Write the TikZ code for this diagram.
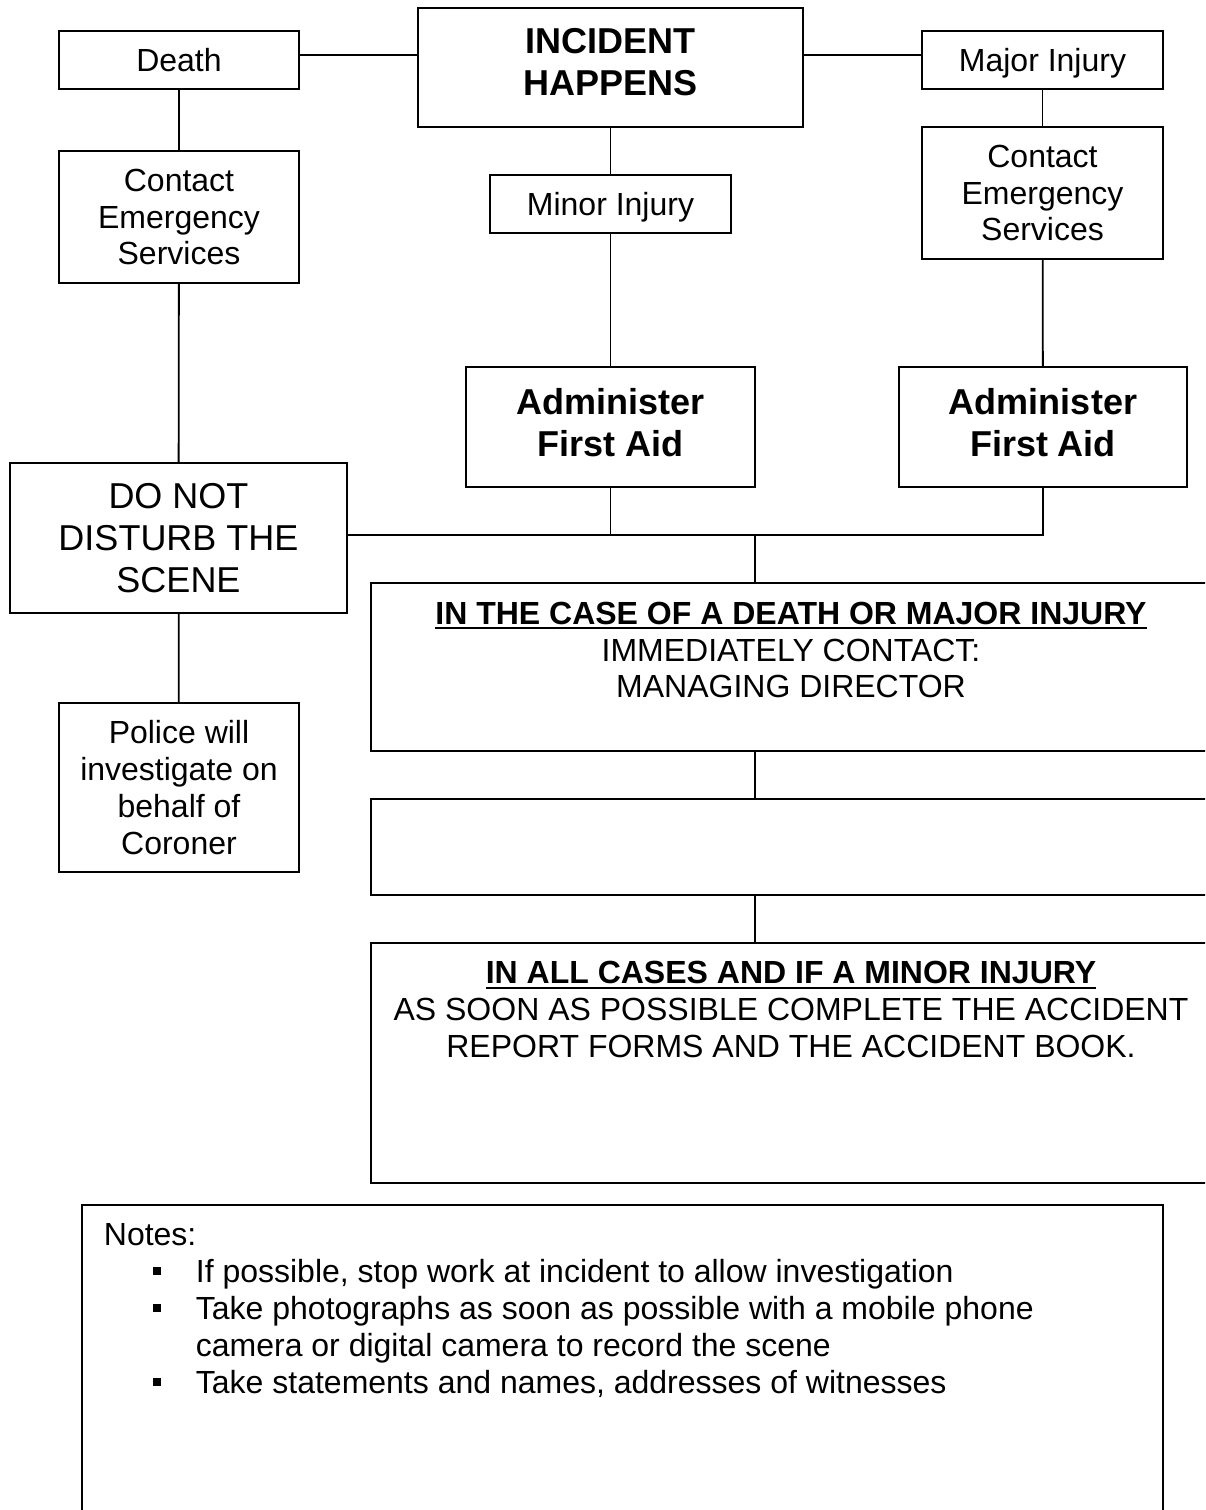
\documentclass[tikz,border=0pt]{standalone}
\usepackage{fontspec}
\setmainfont{Liberation Sans}
\newcommand\myul[1]{\setbox0\hbox{#1}\rlap{\rule[-5pt]{\wd0}{2pt}}\box0}
\newcommand\mybul{\makebox[92pt][l]{\hspace*{49pt}\rule[7pt]{8pt}{8pt}}}
\begin{document}
\begin{tikzpicture}[x=1pt,y=-1pt,line width=1.8pt,
  box/.style={draw,line width=1.8pt,inner sep=0pt,align=center,font=\fontsize{32}{36.8}\selectfont},
  oneline/.style={text depth=0pt},
  bigbold/.style={font=\fontsize{36}{42}\selectfont\bfseries},
  bigreg/.style={font=\fontsize{36}{42}\selectfont},
  txt/.style={inner sep=0pt,align=center,font=\fontsize{32}{36.8}\selectfont},
  notetxt/.style={inner sep=0pt,anchor=base west,font=\fontsize{32}{36.8}\selectfont}]
\useasboundingbox (0,0) rectangle (1205,1510);
\fill[white] (0,0) rectangle (1205,1510);
\clip (0,0) rectangle (1205,1510);
% top row
\node[box,bigbold,text depth=12pt,minimum width=385pt,minimum height=119pt] (incident) at (610.5,67.5) {INCIDENT\\HAPPENS};
\node[box,oneline,minimum width=240pt,minimum height=58pt] (death) at (179,60) {Death};
\node[box,oneline,minimum width=241pt,minimum height=58pt] (major) at (1042.5,60) {Major Injury};
% left column
\node[box,minimum width=240pt,minimum height=132pt] (contactL) at (179,217) {Contact\\Emergency\\Services};
\node[box,bigreg,minimum width=337pt,minimum height=150pt] (dnd) at (178.5,538) {DO NOT\\DISTURB THE\\SCENE};
\node[box,minimum width=240pt,minimum height=169pt] (police) at (179,787.5) {Police will\\investigate on\\behalf of\\Coroner};
% centre column
\node[box,oneline,minimum width=241pt,minimum height=58pt] (minor) at (610.5,204) {Minor Injury};
\node[box,bigbold,text depth=10pt,minimum width=289pt,minimum height=120pt] (adminC) at (610.5,427) {Administer\\First Aid};
% right column
\node[box,minimum width=241pt,minimum height=132pt] (contactR) at (1042.5,193) {Contact\\Emergency\\Services};
\node[box,bigbold,text depth=10pt,minimum width=288pt,minimum height=120pt] (adminR) at (1043,427) {Administer\\First Aid};
% big boxes (open to the right)
\node[box,minimum width=840pt,minimum height=168pt] (box1) at (791,667) {};
\node[box,minimum width=840pt,minimum height=96pt] (box2) at (791,847) {};
\node[box,minimum width=840pt,minimum height=240pt] (box3) at (791,1063) {};
\node[txt] (t1) at (791,650) {\myul{\bfseries IN THE CASE OF A DEATH OR MAJOR INJURY}\\IMMEDIATELY CONTACT:\\MANAGING DIRECTOR};
\node[txt] (t3) at (791,1009.5) {\myul{\bfseries IN ALL CASES AND IF A MINOR INJURY}\\AS SOON AS POSSIBLE COMPLETE THE ACCIDENT\\REPORT FORMS AND THE ACCIDENT BOOK.};
% notes
\node[draw,line width=1.8pt,minimum width=1081pt,minimum height=340pt,inner sep=0pt] (notes) at (622.5,1375) {};
\node[notetxt] (n0) at (103,1245) {Notes:};
\node[notetxt] (n1) at (103,1282) {\mybul If possible, stop work at incident to allow investigation};
\node[notetxt] (n2) at (103,1319) {\mybul Take photographs as soon as possible with a mobile phone};
\node[notetxt] (n3) at (103,1356) {\makebox[92pt]{}camera or digital camera to record the scene};
\node[notetxt] (n4) at (103,1393) {\mybul Take statements and names, addresses of witnesses};
% connectors
\draw ([yshift=5pt]death.east) coordinate (a1) -- (a1 -| incident.west);
\draw ([yshift=5pt]major.west) coordinate (a2) -- (a2 -| incident.east);
\draw (death) -- (contactL);
\draw (contactL) -- (dnd);
\draw (dnd) -- (police);
\draw (incident) -- (minor);
\draw (minor) -- (adminC);
\draw (major) -- (contactR);
\draw (contactR) -- (adminR);
\coordinate (jl) at ([yshift=3pt]dnd.east);
\draw (adminR.south) |- (jl);
\draw (adminC.south) -- (adminC.south |- jl);
\coordinate (j2) at (755,535);
\draw (j2) -- (j2 |- box1.north);
\draw (box1.south -| j2) -- (box2.north -| j2);
\draw (box2.south -| j2) -- (box3.north -| j2);
\end{tikzpicture}
\end{document}
